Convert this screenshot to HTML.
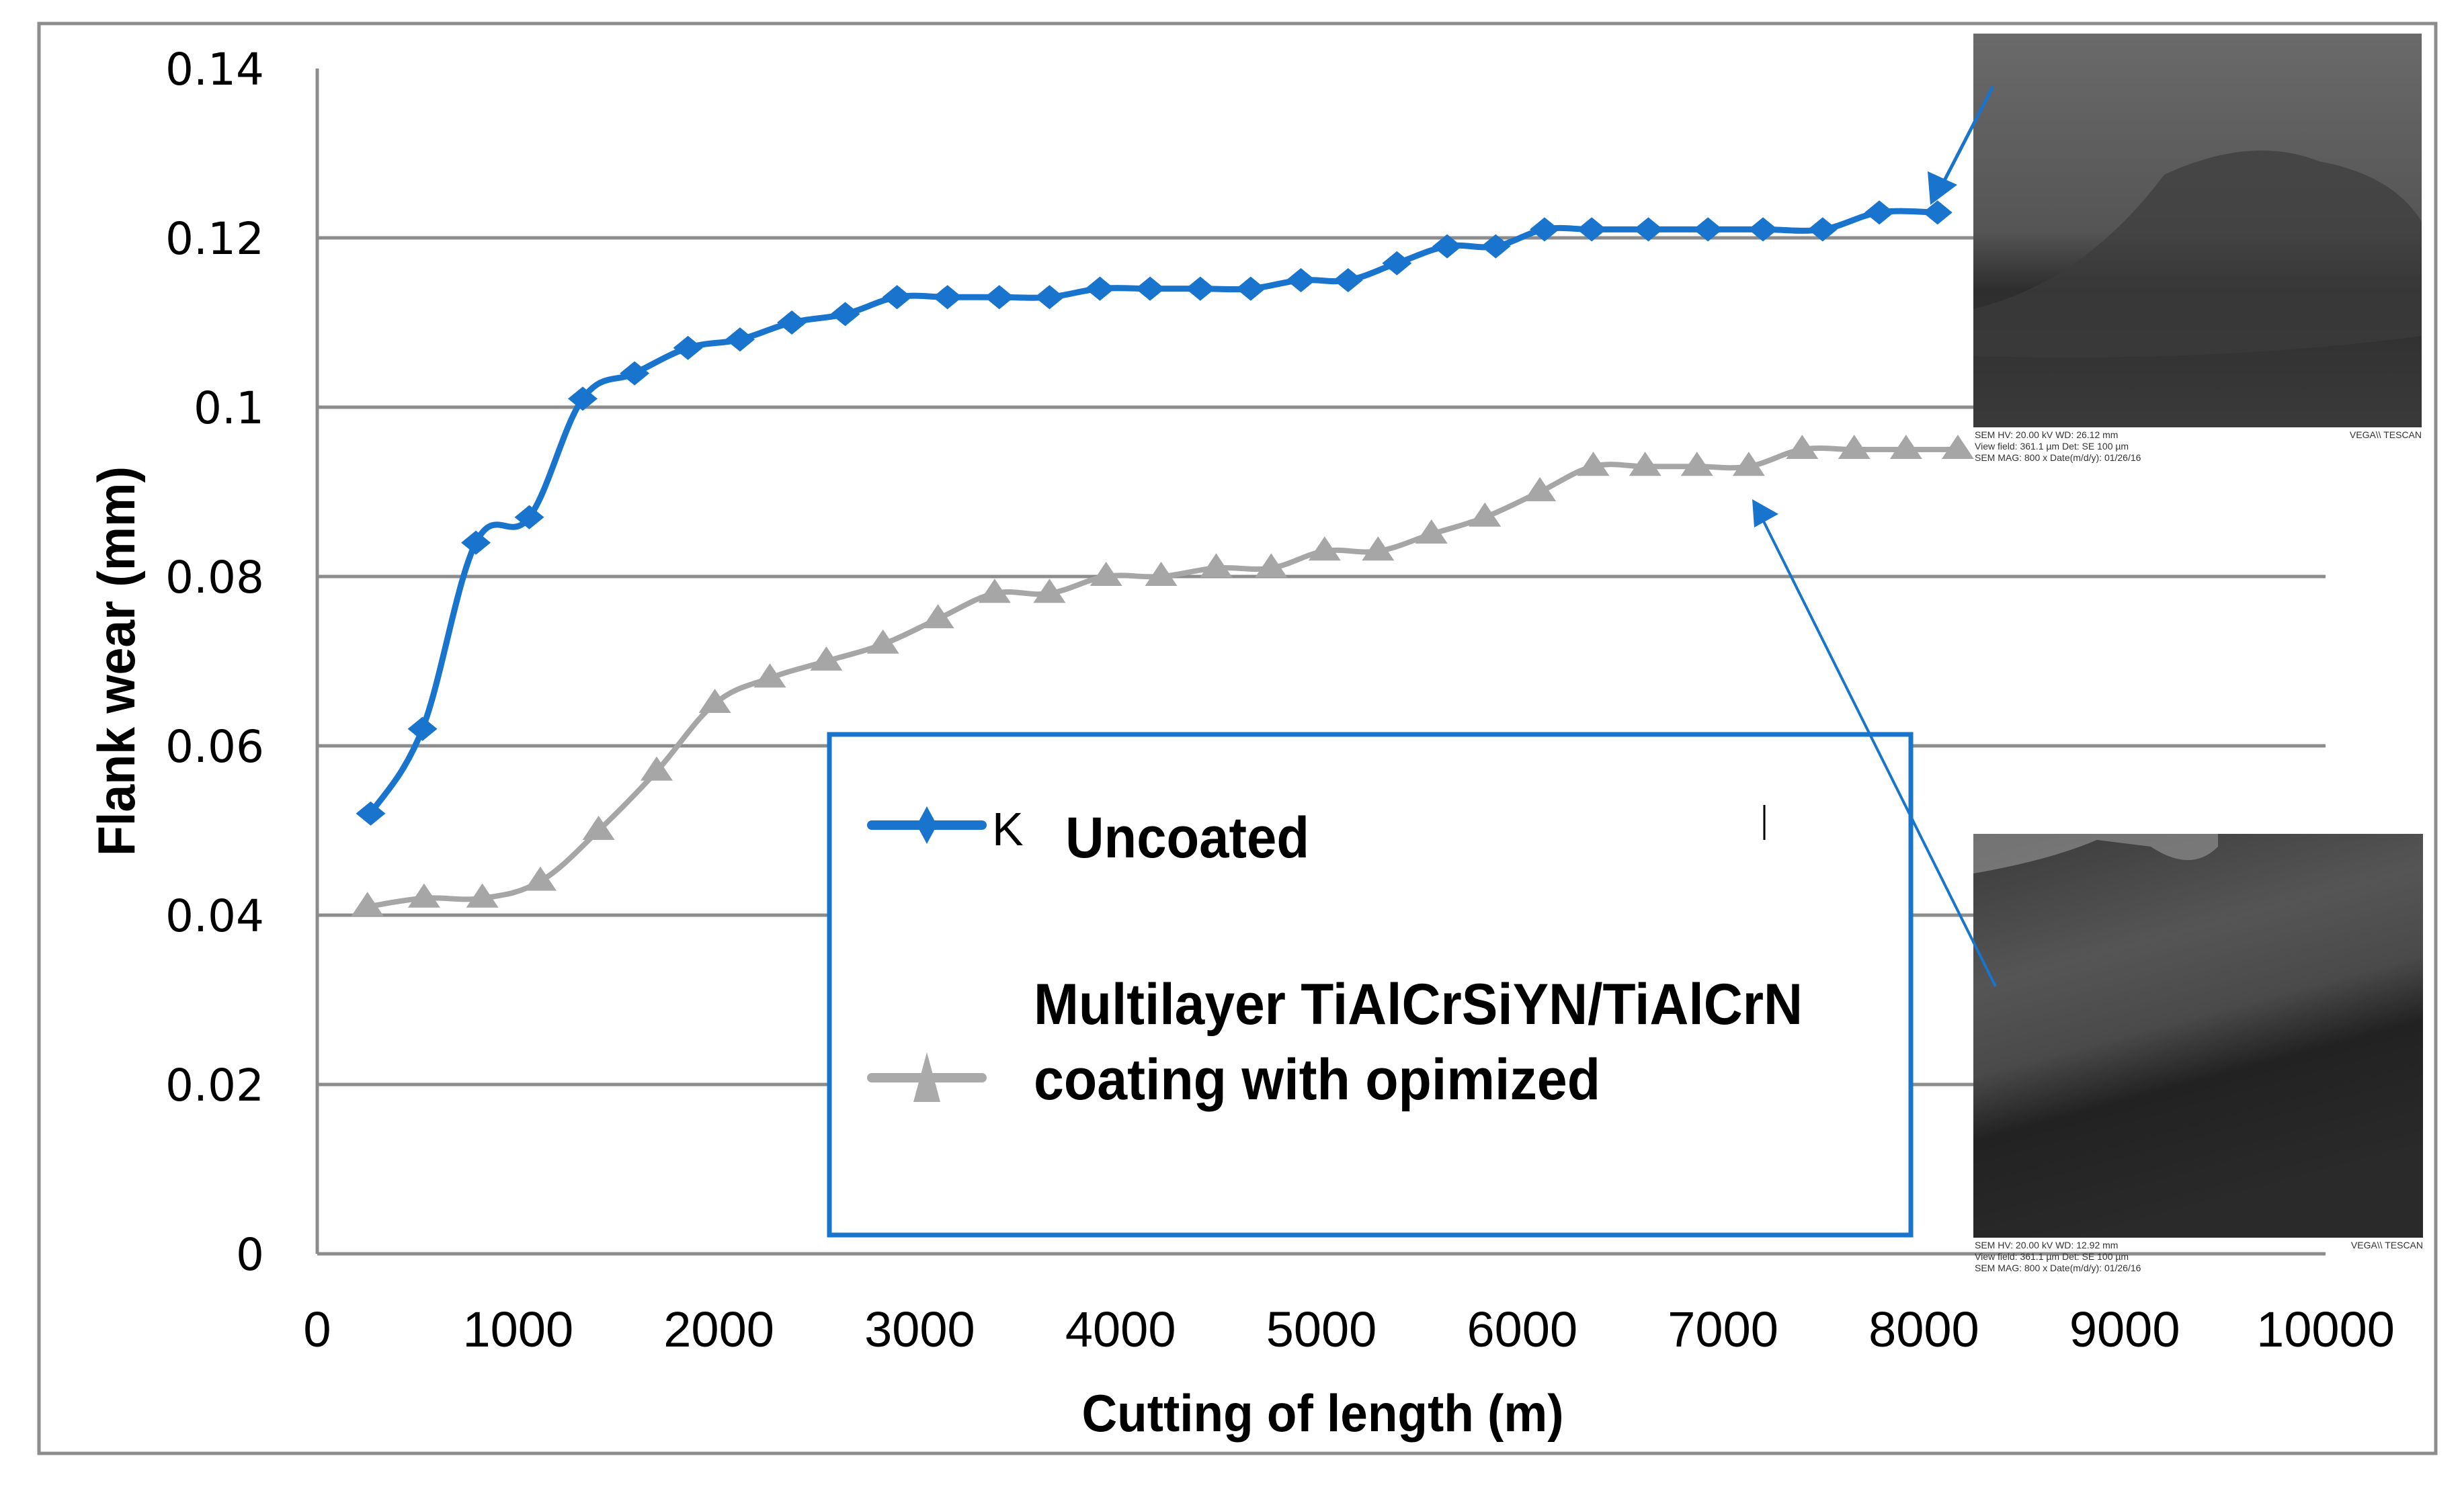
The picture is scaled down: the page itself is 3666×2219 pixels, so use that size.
<!DOCTYPE html>
<html><head><meta charset="utf-8"><style>
html,body{margin:0;padding:0;background:#fff;}
svg{display:block;}
</style></head><body>
<svg id="chart" width="3666" height="2219" viewBox="0 0 3666 2219" xmlns="http://www.w3.org/2000/svg">
<defs>
<linearGradient id="sem1" x1="0" y1="0" x2="0" y2="1">
<stop offset="0" stop-color="#6a6a6a"/><stop offset="0.5" stop-color="#555"/><stop offset="0.65" stop-color="#2e2e2e"/><stop offset="1" stop-color="#3a3a3a"/>
</linearGradient>
<linearGradient id="sem2" x1="0" y1="0" x2="0.3" y2="1">
<stop offset="0" stop-color="#3a3a3a"/><stop offset="0.35" stop-color="#555"/><stop offset="0.55" stop-color="#4a4a4a"/><stop offset="0.7" stop-color="#222"/><stop offset="1" stop-color="#2a2a2a"/>
</linearGradient>
<clipPath id="legclip"><rect x="1234" y="1090" width="1609" height="191"/></clipPath>
</defs>
<rect x="58" y="35" width="3566" height="2128" fill="#fff" stroke="#8c8c8c" stroke-width="5"/>
<g id="grid"></g>
<g id="axes"></g>
<g id="series"></g>
<g>
<rect x="2936" y="50" width="667" height="586" fill="url(#sem1)"/>
<path d="M2936 460 Q3100 420 3220 260 Q3350 200 3450 240 Q3560 260 3603 330 L3603 500 Q3300 540 2936 530 Z" fill="#3c3c3c" opacity="0.7"/>
<text x="2938" y="652" font-family="Liberation Sans" font-size="14" fill="#333">SEM HV: 20.00 kV   WD: 26.12 mm</text>
<text x="2938" y="669" font-family="Liberation Sans" font-size="14" fill="#333">View field: 361.1 µm   Det: SE   100 µm</text>
<text x="2938" y="686" font-family="Liberation Sans" font-size="14" fill="#333">SEM MAG: 800 x   Date(m/d/y): 01/26/16</text>
<text x="3603" y="652" text-anchor="end" font-family="Liberation Sans" font-size="14" fill="#333">VEGA\\ TESCAN</text>
</g>
<g>
<rect x="2936" y="1241" width="669" height="601" fill="url(#sem2)"/>
<path d="M2936 1300 Q3050 1280 3120 1250 L3200 1260 Q3260 1300 3300 1260 L3300 1241 L2936 1241 Z" fill="#999" opacity="0.6"/>
<text x="2938" y="1858" font-family="Liberation Sans" font-size="14" fill="#333">SEM HV: 20.00 kV   WD: 12.92 mm</text>
<text x="2938" y="1875" font-family="Liberation Sans" font-size="14" fill="#333">View field: 361.1 µm   Det: SE   100 µm</text>
<text x="2938" y="1892" font-family="Liberation Sans" font-size="14" fill="#333">SEM MAG: 800 x   Date(m/d/y): 01/26/16</text>
<text x="3605" y="1858" text-anchor="end" font-family="Liberation Sans" font-size="14" fill="#333">VEGA\\ TESCAN</text>
</g>
<g>
<rect x="1234" y="1093" width="1609" height="745" fill="#fff" stroke="#1874cd" stroke-width="7"/>
<g>
<line x1="1297" y1="1228" x2="1461" y2="1228" stroke="#1874cd" stroke-width="14" stroke-linecap="round"/>
<polygon points="1379,1200 1394,1228 1379,1256 1364,1228" fill="#1874cd"/>
<text x="1476" y="1258" font-family="Liberation Sans Narrow, Liberation Sans, sans-serif" font-size="70" fill="#000">K</text>
<g clip-path="url(#legclip)"><text x="1585" y="1276" font-family="Liberation Sans Narrow, Liberation Sans, sans-serif" font-weight="bold" font-size="86" textLength="363" lengthAdjust="spacingAndGlyphs" fill="#000">Uncoated</text></g>
<line x1="2625" y1="1198" x2="2625" y2="1250" stroke="#000" stroke-width="3"/>
</g>
<g>
<line x1="1297" y1="1604" x2="1461" y2="1604" stroke="#aaa" stroke-width="14" stroke-linecap="round"/>
<polygon points="1379,1566 1399,1640 1359,1640" fill="#aaa"/>
<text x="1538" y="1524" font-family="Liberation Sans Narrow, Liberation Sans, sans-serif" font-weight="bold" font-size="86" textLength="1144" lengthAdjust="spacingAndGlyphs" fill="#000">Multilayer TiAlCrSiYN/TiAlCrN</text>
<text x="1538" y="1636" font-family="Liberation Sans Narrow, Liberation Sans, sans-serif" font-weight="bold" font-size="86" textLength="843" lengthAdjust="spacingAndGlyphs" fill="#000">coating with opimized</text>
</g>
</g>
<g>
<line x1="2965" y1="129" x2="2886" y2="282" stroke="#1874cd" stroke-width="5"/>
<polygon points="2872,305 2868,255 2912,275" fill="#1874cd"/>
</g>
<g>
<line x1="2969" y1="1468" x2="2620" y2="768" stroke="#1874cd" stroke-width="4"/>
<polygon points="2607,743 2646,765 2610,785" fill="#1874cd"/>
</g>
<text x="1968" y="2130" text-anchor="middle" font-family="Liberation Sans Narrow, Liberation Sans, sans-serif" font-weight="bold" font-size="78" textLength="717" lengthAdjust="spacingAndGlyphs">Cutting of length (m)</text>
<text transform="translate(200,984) rotate(-90)" text-anchor="middle" font-family="Liberation Sans Narrow, Liberation Sans, sans-serif" font-weight="bold" font-size="78" textLength="580" lengthAdjust="spacingAndGlyphs">Flank wear (mm)</text>
</svg>
<script>
const xTicks = [0,1000,2000,3000,4000,5000,6000,7000,8000,9000,10000];
const xTickLabels = ["0","1000","2000","3000","4000","5000","6000","7000","8000","9000","10000"];
const yTicks = [0,0.02,0.04,0.06,0.08,0.1,0.12,0.14];
const yTickLabels = ["0","0.02","0.04","0.06","0.08","0.1","0.12","0.14"];
const uncoatedX = [266,524,790,1056,1322,1580,1846,2105,2363,2629,2887,3138,3396,3646,3897,4147,4397,4648,4898,5133,5376,5626,5868,6111,6346,6628,6925,7199,7496,7778,8068];
const uncoatedY = [0.052,0.062,0.084,0.087,0.101,0.104,0.107,0.108,0.110,0.111,0.113,0.113,0.113,0.113,0.114,0.114,0.114,0.114,0.115,0.115,0.117,0.119,0.119,0.121,0.121,0.121,0.121,0.121,0.121,0.123,0.123];
const coatedX = [250,532,822,1111,1401,1690,1980,2254,2535,2817,3091,3373,3646,3928,4202,4476,4750,5016,5282,5548,5814,6088,6354,6612,6870,7128,7394,7653,7911,8169];
const coatedY = [0.041,0.042,0.042,0.044,0.050,0.057,0.065,0.068,0.070,0.072,0.075,0.078,0.078,0.080,0.080,0.081,0.081,0.083,0.083,0.085,0.087,0.090,0.093,0.093,0.093,0.093,0.095,0.095,0.095,0.095];

const NS="http://www.w3.org/2000/svg";
const X0=472, X1=3460, Y0=1866, Y1=102;
function xs(v){return X0+(v-0)/(10000-0)*(X1-X0);}
function ys(v){return Y0-(v-0)/(0.14-0)*(Y0-Y1);}
function mk(tag,attrs,parent){const e=document.createElementNS(NS,tag);for(const k in attrs)e.setAttribute(k,attrs[k]);parent.appendChild(e);return e;}
const grid=document.getElementById('grid'), axes=document.getElementById('axes'), series=document.getElementById('series');

yTicks.forEach((t,i)=>{
  if(t>0 && t<0.14){
    const g=mk('line',{x1:X0,x2:X1,y1:ys(t),y2:ys(t),stroke:'#8c8c8c','stroke-width':5},grid);
    
    
  }
  const tx=mk('text',{x:393,y:ys(t)+24,'text-anchor':'end','font-family':'DejaVu Sans, Liberation Sans, sans-serif','font-size':66},axes);
  
  
  tx.textContent=yTickLabels[i];
});
xTicks.forEach((t,i)=>{
  const tx=mk('text',{x:xs(t),y:2004,'text-anchor':'middle','font-family':'Liberation Sans Narrow, Liberation Sans, sans-serif','font-size':74},axes);
  
  
  tx.textContent=xTickLabels[i];
});
const ya=mk('line',{x1:X0,x2:X0,y1:Y1,y2:Y0,stroke:'#8c8c8c','stroke-width':5},axes);


const xa=mk('line',{x1:X0,x2:X1,y1:Y0,y2:Y0,stroke:'#8c8c8c','stroke-width':5},axes);



function smooth(px,py){
  let d='M'+px[0]+' '+py[0];
  for(let i=0;i<px.length-1;i++){
    const x0=px[Math.max(i-1,0)],y0=py[Math.max(i-1,0)],x1=px[i],y1=py[i],x2=px[i+1],y2=py[i+1],x3=px[Math.min(i+2,px.length-1)],y3=py[Math.min(i+2,px.length-1)];
    const t=0.18;
    d+=' C'+(x1+(x2-x0)*t)+' '+(y1+(y2-y0)*t)+' '+(x2-(x3-x1)*t)+' '+(y2-(y3-y1)*t)+' '+x2+' '+y2;
  }
  return d;
}
function drawSeries(xv,yv,color,w,marker,name){
  const px=xv.map(xs), py=yv.map(ys);
  const p=mk('path',{d:smooth(px,py),fill:'none',stroke:color,'stroke-width':w,'stroke-linejoin':'round'},series);
  
  
  px.forEach((x,i)=>{
    const y=py[i];let m;
    if(marker==='diamond') m=mk('polygon',{points:`${x},${y-18} ${x+22},${y} ${x},${y+18} ${x-22},${y}`,fill:color},series);
    else m=mk('polygon',{points:`${x},${y-22} ${x+24},${y+14} ${x-24},${y+14}`,fill:color},series);
    
    
  });
}
drawSeries(coatedX,coatedY,'#a6a6a6',8,'triangle','coated');
drawSeries(uncoatedX,uncoatedY,'#1874cd',9,'diamond','uncoated');
</script>
</body></html>
